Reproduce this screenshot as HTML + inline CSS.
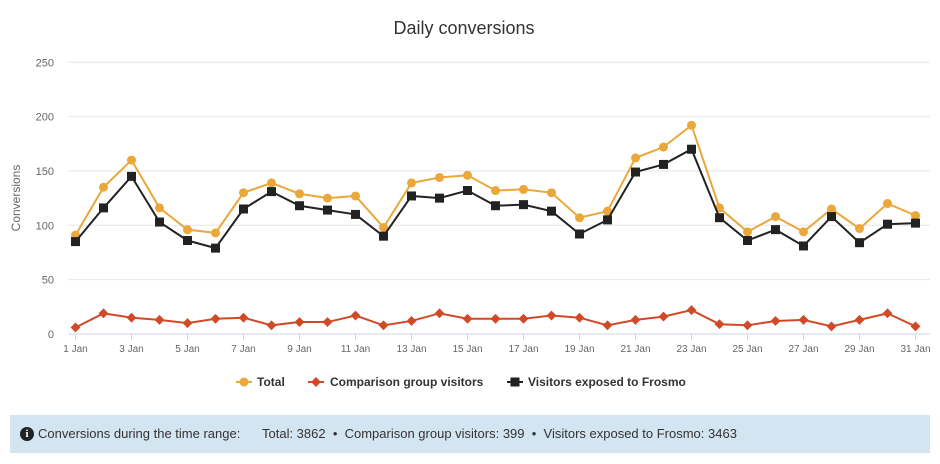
<!DOCTYPE html>
<html><head><meta charset="utf-8"><style>
body{margin:0;width:940px;height:464px;background:#fff;font-family:"Liberation Sans",sans-serif;overflow:hidden}
svg text{font-family:"Liberation Sans",sans-serif}
.box{position:absolute;left:10px;top:415px;width:920px;height:38px;background:#d4e5f2;font-size:13px;color:#333;line-height:38px}
</style></head><body>
<svg id="c" width="940" height="410" style="position:absolute;left:0;top:0"></svg>
<div class="box"><span style="position:absolute;left:10px;top:12px;width:14px;height:14px;border-radius:7px;background:#222;color:#fff;font-size:11px;font-weight:bold;text-align:center;line-height:14px;font-family:'Liberation Serif',serif">i</span><span style="position:absolute;left:28px">Conversions during the time range:</span><span style="position:absolute;left:252px">Total: 3862 &nbsp;•&nbsp; Comparison group visitors: 399 &nbsp;•&nbsp; Visitors exposed to Frosmo: 3463</span></div>
<script>
const T=[91,135,160,116,96,93,130,139,129,125,127,98,139,144,146,132,133,130,107,113,162,172,192,116,94,108,94,115,97,120,109];
const F=[85,116,145,103,86,79,115,131,118,114,110,90,127,125,132,118,119,113,92,105,149,156,170,107,86,96,81,108,84,101,102];
const C=[6,19,15,13,10,14,15,8,11,11,17,8,12,19,14,14,14,17,15,8,13,16,22,9,8,12,13,7,13,19,7];
const X=i=>75.5+i*28, Y=v=>334-v*1.087;
let s='<text x="464" y="34" text-anchor="middle" font-size="18" fill="#333">Daily conversions</text>';
s+='<text transform="translate(20,198) rotate(-90)" text-anchor="middle" font-size="12" fill="#666">Conversions</text>';
for(let v=0;v<=250;v+=50){const y=Y(v);s+=`<line x1="68" x2="930" y1="${y}" y2="${y}" stroke="${v?'#e6e6e6':'#ccd6eb'}"/><text x="54" y="${y+4}" text-anchor="end" font-size="11" fill="#666">${v}</text>`;}
for(let i=0;i<31;i+=2){s+=`<line x1="${X(i)}" x2="${X(i)}" y1="334" y2="340" stroke="#ccd6eb"/><text x="${X(i)}" y="352" text-anchor="middle" font-size="10" fill="#666">${i+1} Jan</text>`;}
const pl=(d,c)=>`<polyline fill="none" stroke="${c}" stroke-width="2" points="${d.map((v,i)=>X(i)+','+Y(v)).join(' ')}"/>`;
s+=pl(T,'#eaa73a');T.forEach((v,i)=>s+=`<circle cx="${X(i)}" cy="${Y(v)}" r="4.5" fill="#eaa73a"/>`);
s+=pl(C,'#d04a28');C.forEach((v,i)=>s+=`<rect x="${X(i)-3.5}" y="${Y(v)-3.5}" width="7" height="7" fill="#d04a28" transform="rotate(45 ${X(i)} ${Y(v)})"/>`);
s+=pl(F,'#222');F.forEach((v,i)=>s+=`<rect x="${X(i)-4.5}" y="${Y(v)-4.5}" width="9" height="9" fill="#222"/>`);
s+=`<line x1="236" x2="252" y1="382" y2="382" stroke="#eaa73a" stroke-width="2"/><circle cx="244" cy="382" r="4.5" fill="#eaa73a"/><text x="257" y="386" font-size="12" font-weight="bold" fill="#333">Total</text>`;
s+=`<line x1="308" x2="324" y1="382" y2="382" stroke="#d04a28" stroke-width="2"/><rect x="312.5" y="378.5" width="7" height="7" fill="#d04a28" transform="rotate(45 316 382)"/><text x="330" y="386" font-size="12" font-weight="bold" fill="#333">Comparison group visitors</text>`;
s+=`<line x1="507" x2="523" y1="382" y2="382" stroke="#222" stroke-width="2"/><rect x="510.5" y="377.5" width="9" height="9" fill="#222"/><text x="528" y="386" font-size="12" font-weight="bold" fill="#333">Visitors exposed to Frosmo</text>`;
document.getElementById('c').innerHTML=s;
</script>
</body></html>
